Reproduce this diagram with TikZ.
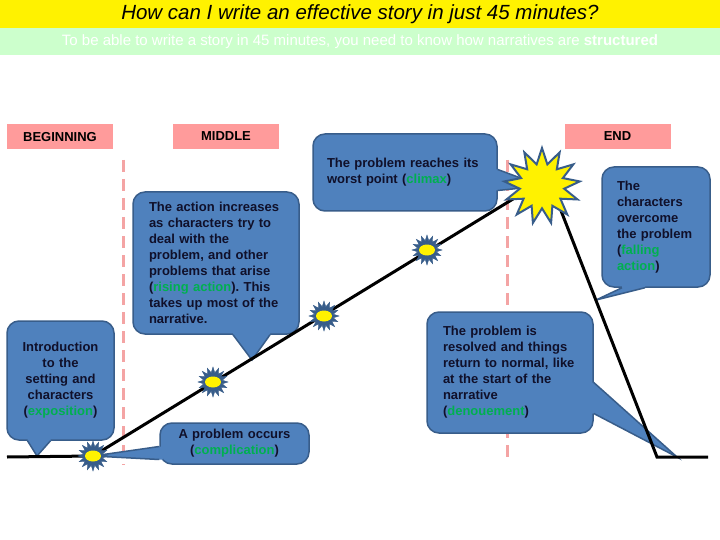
\documentclass[tikz,border=0pt]{standalone}
\usepackage{fontspec}
\setmainfont{Liberation Sans}
\usetikzlibrary{shapes.geometric,calc}
\definecolor{callfill}{HTML}{4F81BD}
\definecolor{callline}{HTML}{385D8A}
\definecolor{pinkbox}{HTML}{FF9B9B}
\definecolor{dashpink}{HTML}{F4A4A4}
\definecolor{termgreen}{HTML}{00B050}
\definecolor{bandgreen}{HTML}{CCFFCC}
\definecolor{txt}{HTML}{10102A}
\frenchspacing
\newcommand\term[1]{\textcolor{termgreen}{#1}}
\newcommand\drawtail[4]{%
  \fill[tailfill] (#1) -- (#2) -- (#3) -- ($(#3)+#4$) -- ($(#1)+#4$) -- cycle;
  \draw[tailline] (#1) -- (#2) -- (#3);}
\begin{document}
\begin{tikzpicture}[x=1pt,y=-1pt,
  calloutbox/.style={rounded corners=12pt, fill=callfill, draw=callline, line width=1.5pt,
    font=\bfseries\fontsize{13}{16}\selectfont, text=txt, inner ysep=0pt},
  phasebox/.style={fill=pinkbox, minimum height=25pt, minimum width=106pt,
    font=\bfseries\fontsize{13}{15}\selectfont, inner sep=0pt},
  phasedash/.style={dashpink, line width=3pt, dash pattern=on 12pt off 7pt},
  storyline/.style={black, line width=3pt},
  smallstar/.style={star, star points=16, star point ratio=1.6, minimum size=30pt,
    inner sep=0pt, fill=callline, draw=callline},
  bigstar/.style={star, star points=13, star point ratio=1.7, minimum size=76pt,
    inner sep=0pt, fill=yellow, draw=callline, line width=2pt},
  tailfill/.style={fill=callfill},
  tailline/.style={draw=callline, line width=1.5pt, line join=miter}
]
\useasboundingbox (0,0) rectangle (720,540);
\fill[white] (0,0) rectangle (720,540);

% header bands
\node[fill=yellow, minimum width=720pt, minimum height=28pt, inner sep=0pt,
  font=\itshape\fontsize{20.5}{24}\selectfont] (title) at (360,14)
  {How can I write an effective story in just 45 minutes?};
\node[fill=bandgreen, minimum width=720pt, minimum height=27pt, inner sep=0pt,
  text=white, font=\fontsize{15}{17}\selectfont] (subtitle) at (360,41.5)
  {To be able to write a story in 45 minutes, you need to know how narratives are \textbf{structured}};

% phase labels
\node[phasebox] (beg) at (60,137) {BEGINNING};
\node[phasebox] (mid) at (226,136.5) {MIDDLE};
\node[phasebox] (endp) at (617.5,136.5) {END};

% key points
\coordinate (start) at (7,457);
\coordinate (k1) at (93,456);
\coordinate (k2) at (213,382);
\coordinate (k3) at (324,316);
\coordinate (k4) at (427,250);
\coordinate (kc) at (542,186);
\coordinate (climaxend) at (513,199);
\coordinate (fallstart) at (558,203);
\coordinate (bottom) at (657,457);
\coordinate (finish) at (708,457);

% dashed phase dividers
\coordinate (d1t) at (123,160);
\coordinate (d1b) at (123,465);
\coordinate (d2t) at (507,160);
\coordinate (d2b) at (507,458);
\draw[phasedash] (d1t) -- (d1b);
\draw[phasedash] (d2t) -- (d2b);

% callouts
\node[calloutbox, text width=95pt, inner xsep=6pt, minimum height=119pt, align=center]
  (expo) at (60.5,380.5)
  {Introduction\\to the\\setting and\\characters\\(\term{exposition})};
\coordinate (expoA) at ([xshift=-33pt]expo.south);
\coordinate (expoB) at ([xshift=-10pt]expo.south);
\coordinate (expotip) at (37,456);
\drawtail{expoA}{expotip}{expoB}{(0,-4)}

\node[calloutbox, text width=134pt, inner xsep=16pt, minimum height=142pt, align=left]
  (rise) at (216,263)
  {The action increases\\as characters try to\\deal with the\\problem, and other\\problems that arise\\(\term{rising action}). This\\takes up most of the\\narrative.};
\coordinate (riseA) at ([xshift=17pt]rise.south);
\coordinate (riseB) at ([xshift=54pt]rise.south);
\coordinate (risetip) at (252,360);
\drawtail{riseA}{risetip}{riseB}{(0,-4)}

\node[calloutbox, text width=137pt, inner xsep=6pt, minimum height=41pt, align=center]
  (comp) at (234.5,443.5)
  {A problem occurs\\(\term{complication})};
\coordinate (compA) at ($(comp.west)+(0,3)$);
\coordinate (compB) at ($(comp.west)+(0,16)$);
\drawtail{compA}{k1}{compB}{(4,0)}

\node[calloutbox, text width=156pt, inner xsep=14pt, minimum height=77pt, align=left]
  (clim) at (405,172.5)
  {The problem reaches its\\worst point (\term{climax})};
\coordinate (climA) at ($(clim.east)+(0,-3)$);
\coordinate (climB) at ($(clim.east)+(0,18)$);
\drawtail{climA}{kc}{climB}{(-4,0)}

\node[calloutbox, text width=78pt, inner xsep=15pt, minimum height=120pt, align=left]
  (fall) at (656,227)
  {The\\characters\\overcome\\the problem\\(\term{falling}\\\term{action})};
\coordinate (fallA) at ([xshift=-34pt]fall.south);
\coordinate (fallB) at ([xshift=-11pt]fall.south);
\coordinate (falltip) at (596,300);
\drawtail{fallA}{falltip}{fallB}{(0,-4)}

\node[calloutbox, text width=134pt, inner xsep=16pt, minimum height=121pt, align=left]
  (denou) at (510,372.5)
  {The problem is\\resolved and things\\return to normal, like\\at the start of the\\narrative\\(\term{denouement})};
\coordinate (denouA) at ($(denou.east)+(0,10)$);
\coordinate (denouB) at ($(denou.east)+(0,41)$);
\coordinate (denoutip) at (677,457);
\drawtail{denouA}{denoutip}{denouB}{(-4,0)}

% story line
\draw[storyline] (start) -- (k1) -- (climaxend);
\draw[storyline] (fallstart) -- (bottom) -- (finish);

% stars
\foreach \k/\s in {k1/s1,k2/s2,k3/s3,k4/s4}{
  \node[smallstar] (\s) at (\k) {};
  \fill[yellow] (\s.center) ellipse [x radius=8, y radius=5.5];
}
\node[bigstar] (sc) at (kc) {};
\end{tikzpicture}
\end{document}
